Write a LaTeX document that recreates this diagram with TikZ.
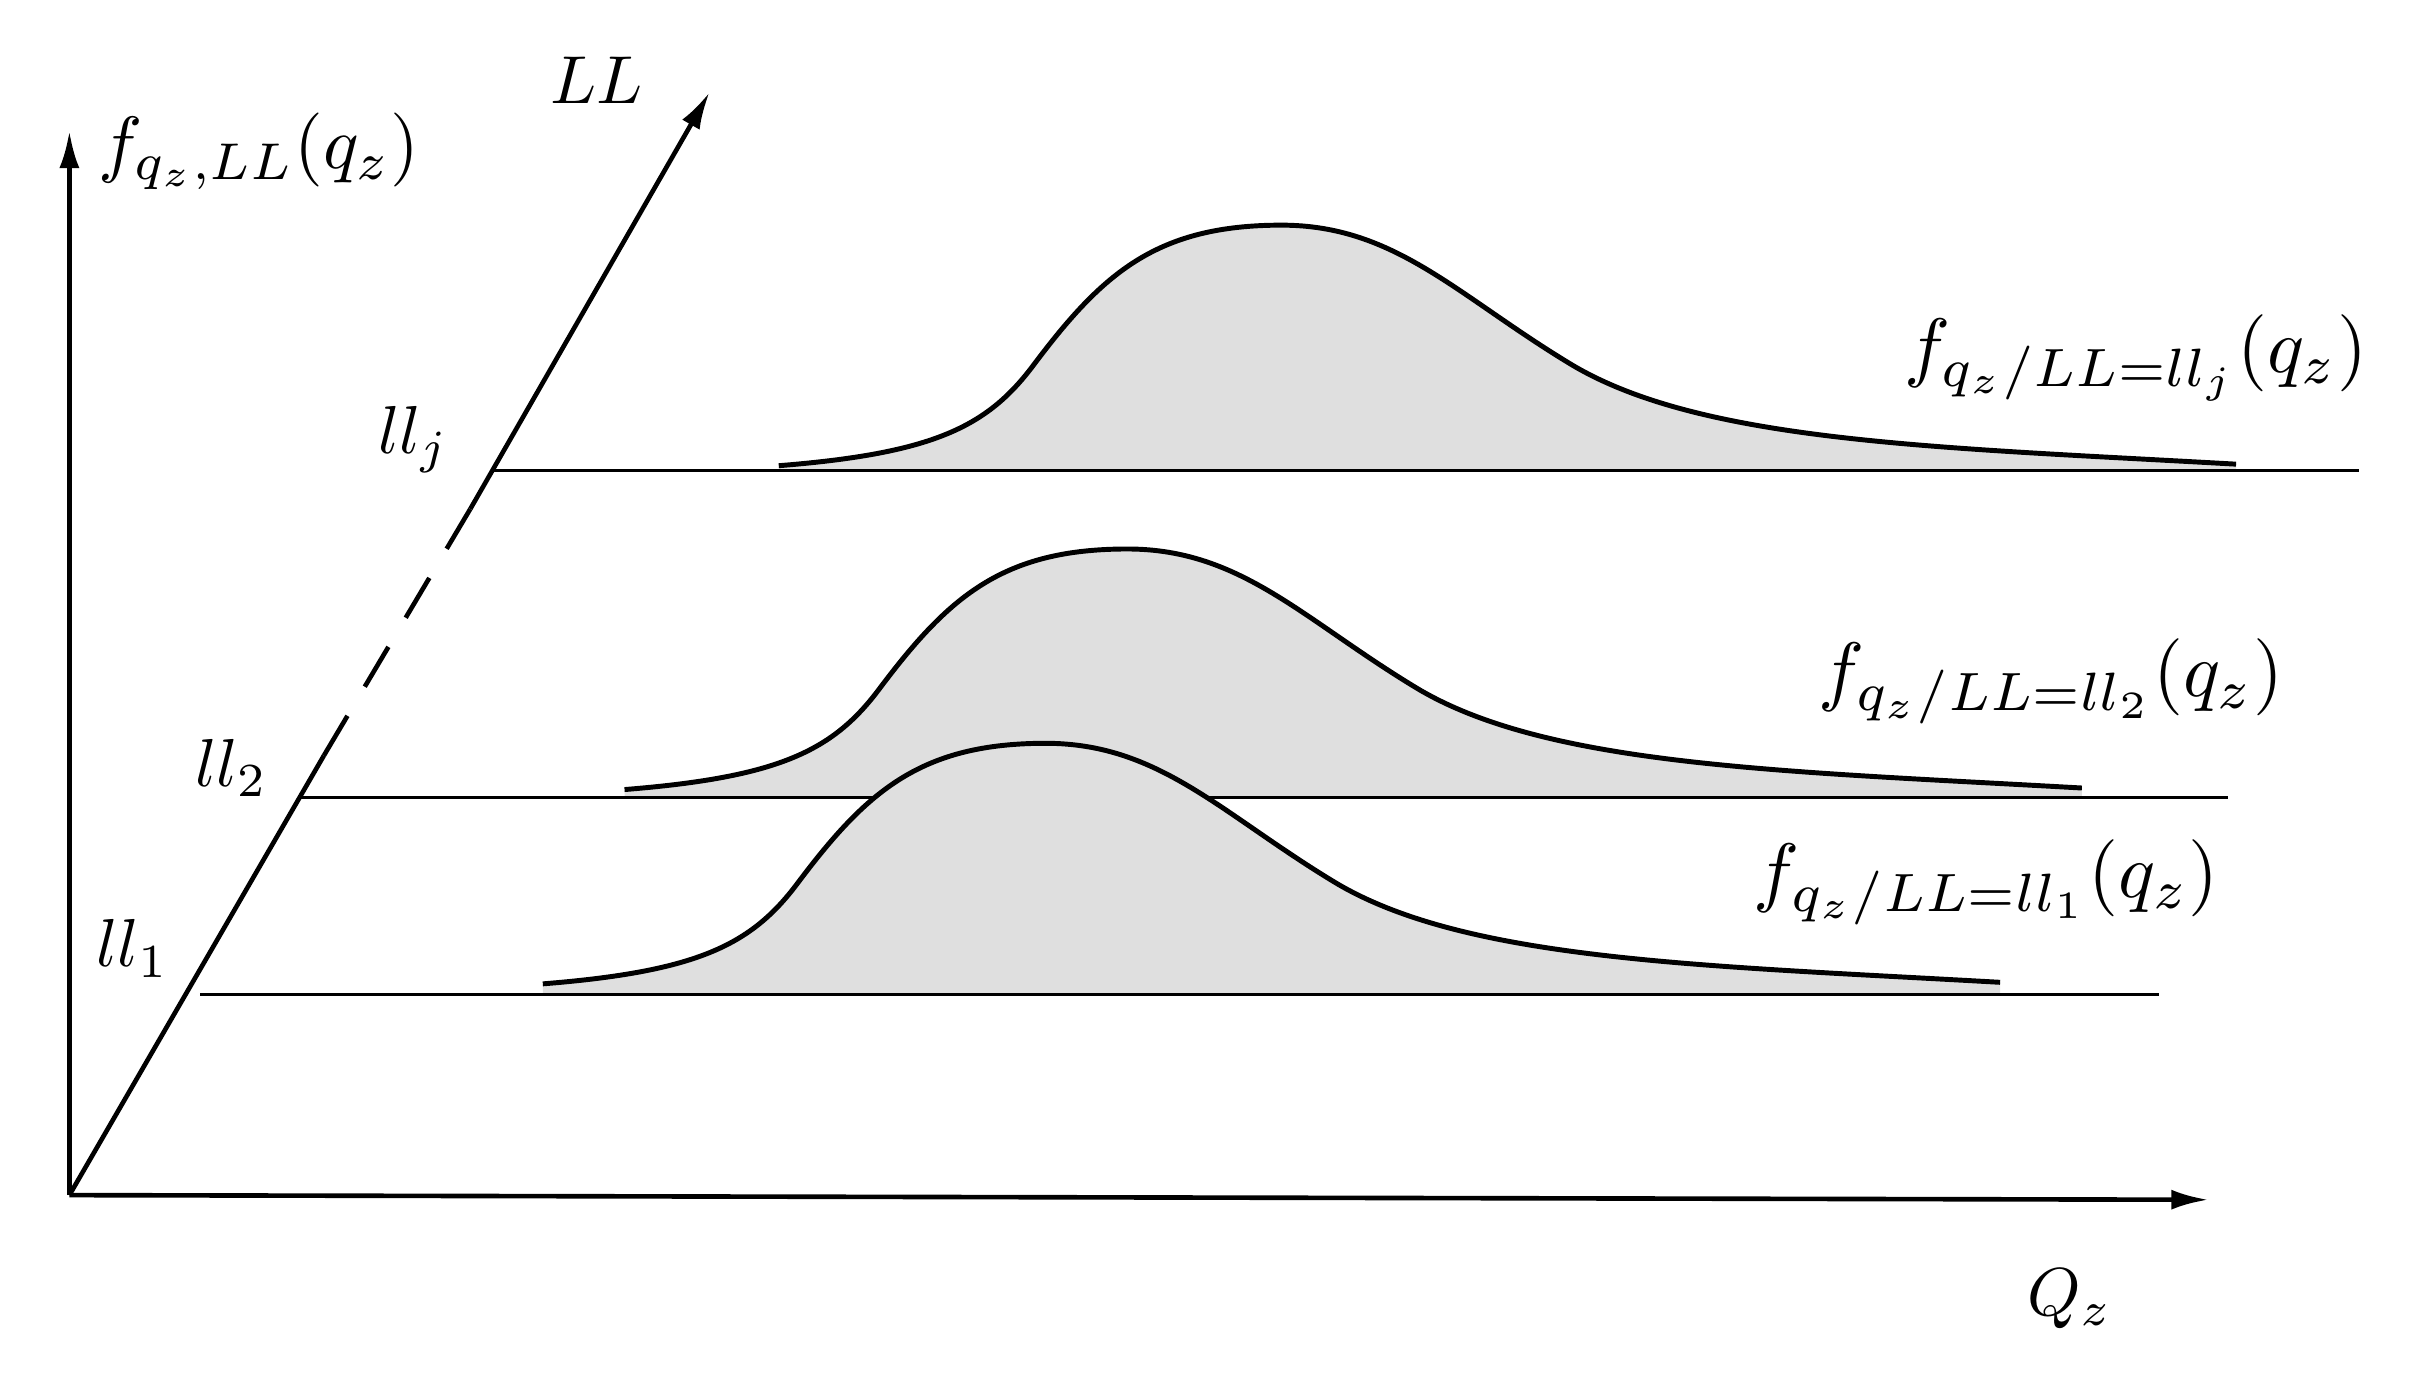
\documentclass[tikz,border=0pt]{standalone}
\usetikzlibrary{arrows.meta}
\begin{document}
\begin{tikzpicture}[x=1pt,y=-1pt,
  ax/.style={line width=3pt,-{Latex[length=24pt,width=13pt]}},
  base/.style={line width=1.6pt},
  crv/.style={line width=3.2pt},
  lbl/.style={scale=4.4},
  clbl/.style={scale=5}]
\useasboundingbox (0,0) rectangle (1568,896);
\def\shape{(0,0) .. controls (100,-8) and (135,-25) .. (165,-65) .. controls (210,-125) and (245,-156) .. (326,-156) .. controls (400,-156) and (440,-110) .. (515,-65) .. controls (600,-15) and (750,-12) .. (945,-1)}
\foreach \dx/\dy/\bx/\by/\ex in {505/302/320/305/1530, 405/512/195/517/1445, 352/638/130/645/1400}{
  \begin{scope}[shift={(\dx,\dy)}]
    \fill[gray!25] \shape -- (945,\by-\dy) -- (0,\by-\dy) -- cycle;
  \end{scope}
  \draw[base] (\bx,\by) -- (\ex,\by);
  \begin{scope}[shift={(\dx,\dy)}]
    \draw[crv] \shape;
  \end{scope}
}
\coordinate (O) at (45,775);
\coordinate (Ytop) at (45,85);
\coordinate (Xend) at (1432,778);
\coordinate (Ltop) at (460,60);
\coordinate (D1) at (210,490);
\coordinate (D2) at (305,330);
\draw[ax] (O) -- (Ytop);
\draw[ax] (O) -- (Xend);
\draw[line width=3pt] (O) -- (D1);
\draw[line width=3pt,dash pattern=on 30pt off 22pt] (D1) -- (D2);
\draw[ax] (D2) -- (Ltop);
\node[scale=4.8] (fy) at (168,98) {$f_{q_z,LL}(q_z)$};
\node[lbl] (LL) at (387,52) {$LL$};
\node[lbl] (Qz) at (1342,842) {$Q_z$};
\node[lbl] (llj) at (268,285) {$ll_j$};
\node[lbl] (ll2) at (150,498) {$ll_2$};
\node[lbl] (ll1) at (86,615) {$ll_1$};
\node[clbl] (cj) at (1385,232) {$f_{q_z/LL=ll_j}(q_z)$};
\node[clbl] (c2) at (1330,442) {$f_{q_z/LL=ll_2}(q_z)$};
\node[clbl] (c1) at (1288,572) {$f_{q_z/LL=ll_1}(q_z)$};
\end{tikzpicture}
\end{document}
